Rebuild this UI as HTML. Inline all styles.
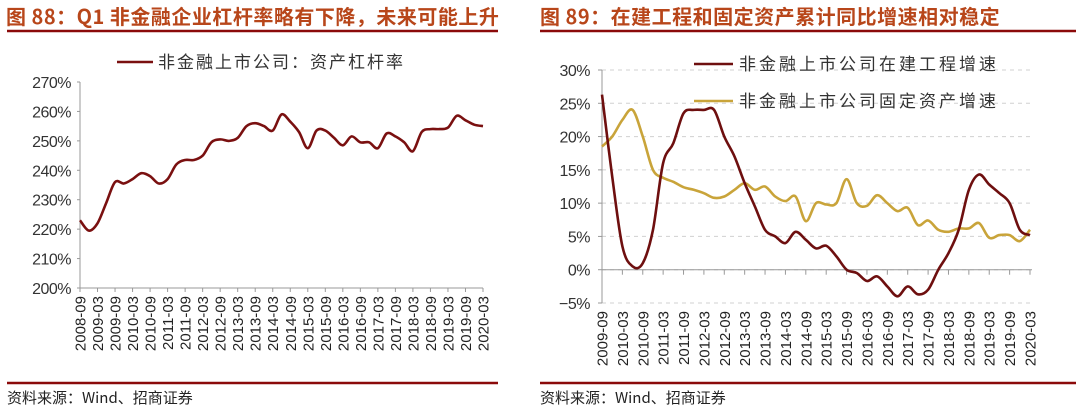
<!DOCTYPE html>
<html><head><meta charset="utf-8"><style>
html,body{margin:0;padding:0;background:#fff;width:1080px;height:415px;overflow:hidden}
svg{display:block}
text{font-family:"Liberation Sans","Noto Sans CJK SC",sans-serif}
.cn{font-family:"Noto Sans CJK SC","WenQuanYi Zen Hei",sans-serif}
</style></head><body>
<svg id="c" width="1080" height="415" xmlns="http://www.w3.org/2000/svg">
<text x="6" y="24" font-size="20" font-weight="bold" fill="#b8461a" class="cn" letter-spacing="0.5">图 88：Q1 非金融企业杠杆率略有下降，未来可能上升</text>
<line x1="7" y1="31" x2="498" y2="31" stroke="#8b0a0a" stroke-width="2.5"/>
<text x="540" y="24" font-size="20" font-weight="bold" fill="#b8461a" class="cn" letter-spacing="0.5">图 89：在建工程和固定资产累计同比增速相对稳定</text>
<line x1="540" y1="31" x2="1076" y2="31" stroke="#8b0a0a" stroke-width="2.5"/>
<line x1="7" y1="383" x2="498" y2="383" stroke="#8b0a0a" stroke-width="2.5"/>
<line x1="540" y1="383" x2="1076" y2="383" stroke="#8b0a0a" stroke-width="2.5"/>
<text x="7" y="403" font-size="15" fill="#222" class="cn">资料来源：Wind、招商证券</text>
<text x="540" y="403" font-size="15" fill="#222" class="cn">资料来源：Wind、招商证券</text>
<g id="L"></g><g id="R"></g>
</svg>
<script>
const leftValues=[223,219.5,222,229,236,235.5,237,239,238,235.5,237,242,243.5,243.5,245,249.5,250.5,250,251,255,256,255,253.5,259,256.5,253,247.5,253.5,253.5,251,248.5,251.5,249.5,249.5,247.5,252.5,251.5,249.5,246.5,253,254,254,254.5,258.5,257,255.5,255];
const leftYTicks=[200,210,220,230,240,250,260,270];
const leftXLabels=["2008-09","2009-03","2009-09","2010-03","2010-09","2011-03","2011-09","2012-03","2012-09","2013-03","2013-09","2014-03","2014-09","2015-03","2015-09","2016-03","2016-09","2017-03","2017-09","2018-03","2018-09","2019-03","2019-09","2020-03"];
const cipValues=[26.3,14,3.5,0.5,1,6,16,19,23.5,24,24,24,20,17,13,9.5,6,5,4,5.7,4.5,3.2,3.6,2,0,-0.5,-1.7,-1,-2.5,-4,-2.5,-3.7,-3,0,2.5,6,12,14.3,12.8,11.5,10,6,5.2];
const fixedValues=[18.5,20,22.5,24,20,15,13.8,13.2,12.4,12,11.5,10.8,11,12,13,12,12.5,11,10.3,11,7.3,10,9.8,10,13.6,10,9.6,11.2,10,8.8,9.3,6.7,7.4,6,5.7,6.2,6.2,7,4.8,5.2,5.2,4.3,6];
const rightYTicks=[-5,0,5,10,15,20,25,30];
const rightXLabels=["2009-09","2010-03","2010-09","2011-03","2011-09","2012-03","2012-09","2013-03","2013-09","2014-03","2014-09","2015-03","2015-09","2016-03","2016-09","2017-03","2017-09","2018-03","2018-09","2019-03","2019-09","2020-03"];
const NS="http://www.w3.org/2000/svg";
function mk(p,t,a){const e=document.createElementNS(NS,t);for(const k in a)e.setAttribute(k,a[k]);p.appendChild(e);return e;}
function smooth(pts){let d="M"+pts[0][0]+","+pts[0][1];for(let i=0;i<pts.length-1;i++){const p0=pts[i-1]||pts[i],p1=pts[i],p2=pts[i+1],p3=pts[i+2]||p2;const c1=[p1[0]+(p2[0]-p0[0])/6,p1[1]+(p2[1]-p0[1])/6],c2=[p2[0]-(p3[0]-p1[0])/6,p2[1]-(p3[1]-p1[1])/6];d+=" C"+c1[0].toFixed(1)+","+c1[1].toFixed(1)+" "+c2[0].toFixed(1)+","+c2[1].toFixed(1)+" "+p2[0].toFixed(1)+","+p2[1].toFixed(1);}return d;}
// LEFT
(function(){
const g=document.getElementById('L');
const x0=80,x1=483,yT=82,yB=288,vmin=200,vmax=270;
const ys=v=>yB-(v-vmin)/(vmax-vmin)*(yB-yT);
const xs=i=>x0+i*(x1-x0)/(leftValues.length-1);
let ax=mk(g,'line',{x1:x0,y1:yT,x2:x0,y2:yB,stroke:'#999'});


let bx=mk(g,'line',{x1:x0,y1:yB,x2:x1,y2:yB,stroke:'#999'});


leftYTicks.forEach(v=>{const t=mk(g,'text',{x:x0-9,y:ys(v)+6,'font-size':16,'text-anchor':'end',fill:'#333','letter-spacing':'-0.5'});t.textContent=v+'%';


mk(g,'line',{x1:x0-3,y1:ys(v),x2:x0,y2:ys(v),stroke:'#999'});});
leftXLabels.forEach((s,i)=>{const x=x0+i*(x1-x0)/(leftXLabels.length-1);mk(g,'line',{x1:x,y1:yB,x2:x,y2:yB+4,stroke:'#999'});
const t=mk(g,'text',{x:0,y:0,'font-size':15,'text-anchor':'end',fill:'#222',transform:`translate(${x+5.5},${yB+8}) rotate(-90)`});t.textContent=s;

});
const p=mk(g,'path',{d:smooth(leftValues.map((v,i)=>[xs(i),ys(v)])),fill:'none',stroke:'#7a1010','stroke-width':2.6});


const ll=mk(g,'line',{x1:117,y1:62,x2:153,y2:62,stroke:'#7a1010','stroke-width':2.6});


const lt=mk(g,'text',{x:158,y:68,'font-size':17,fill:'#333',class:'cn','letter-spacing':'2'});lt.textContent='非金融上市公司：资产杠杆率';


})();
// RIGHT
(function(){
const g=document.getElementById('R');
const x0=602,x1=1030,yT=70,yB=303,vmin=-5,vmax=30;
const ys=v=>yB-(v-vmin)/(vmax-vmin)*(yB-yT);
const xs=i=>x0+i*(x1-x0)/(cipValues.length-1);
rightYTicks.forEach(v=>{const gl=mk(g,'line',{x1:x0,y1:ys(v),x2:1033,y2:ys(v),stroke:'#d0d0d0','stroke-dasharray':'4,4'});


mk(g,'line',{x1:x0-4,y1:ys(v),x2:x0,y2:ys(v),stroke:'#999'});
const t=mk(g,'text',{x:x0-12,y:ys(v)+6,'font-size':16,'text-anchor':'end',fill:'#333','letter-spacing':'-0.5'});t.textContent=(v<0?'−'+(-v):v)+'%';

});
let ax=mk(g,'line',{x1:x0,y1:yT,x2:x0,y2:yB,stroke:'#999'});


const y0=ys(0);
let bx=mk(g,'line',{x1:x0,y1:y0,x2:x1+2,y2:y0,stroke:'#999'});


rightXLabels.forEach((s,i)=>{const x=x0+i*(x1-x0)/(rightXLabels.length-1);mk(g,'line',{x1:x,y1:y0,x2:x,y2:y0+5,stroke:'#999'});
const t=mk(g,'text',{x:0,y:0,'font-size':15,'text-anchor':'end',fill:'#222',transform:`translate(${x+5.5},${yB+8}) rotate(-90)`});t.textContent=s;

});
const pf=mk(g,'path',{d:smooth(fixedValues.map((v,i)=>[xs(i),ys(v)])),fill:'none',stroke:'#c9a43a','stroke-width':2.6});


const pc=mk(g,'path',{d:smooth(cipValues.map((v,i)=>[xs(i),ys(v)])),fill:'none',stroke:'#6e0f0f','stroke-width':2.6});


const l1=mk(g,'line',{x1:694,y1:64,x2:733,y2:64,stroke:'#6e0f0f','stroke-width':2.6});


const t1=mk(g,'text',{x:739,y:70,'font-size':17,fill:'#333',class:'cn','letter-spacing':'3'});t1.textContent='非金融上市公司在建工程增速';


const l2=mk(g,'line',{x1:694,y1:101,x2:733,y2:101,stroke:'#c9a43a','stroke-width':2.6});


const t2=mk(g,'text',{x:739,y:107,'font-size':17,fill:'#333',class:'cn','letter-spacing':'3'});t2.textContent='非金融上市公司固定资产增速';


})();
</script>
</body></html>
